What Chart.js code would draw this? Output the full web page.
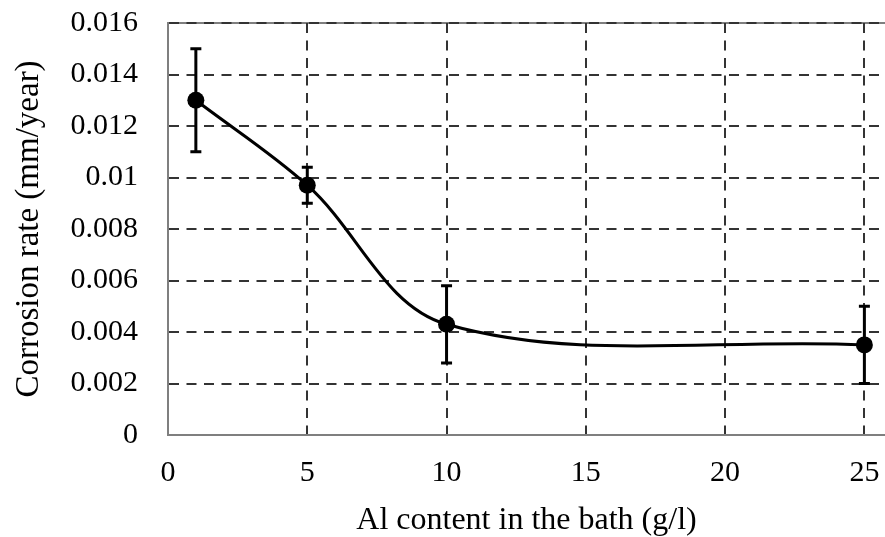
<!DOCTYPE html>
<html>
<head>
<meta charset="utf-8">
<script src="https://cdn.jsdelivr.net/npm/chart.js@4/dist/chart.umd.min.js"></script>
<style>
  html, body { margin: 0; padding: 0; background: #fff; }
  #wrap { width: 885px; height: 537px; position: relative; }
</style>
</head>
<body>
<div id="wrap"><canvas id="chart"></canvas></div>
<script>
const alContent = [1, 5, 10, 25];
const corrosionRate = [0.013, 0.0097, 0.0043, 0.0035];
const errUpper = [0.002, 0.0007, 0.0015, 0.0015];
const errLower = [0.002, 0.0007, 0.0015, 0.0015];
const xTicks = [0, 5, 10, 15, 20, 25];
const yTicks = [0, 0.002, 0.004, 0.006, 0.008, 0.01, 0.012, 0.014, 0.016];
const yTickLabels = ['0', '0.002', '0.004', '0.006', '0.008', '0.01', '0.012', '0.014', '0.016'];

const FONT = "'Liberation Serif', 'Times New Roman', serif";

// gray frame behind the dashed grid (top edge; left/bottom come from axis borders)
const framePlugin = {
  id: 'frame',
  beforeDraw(chart) {
    const { ctx, chartArea } = chart;
    ctx.save();
    ctx.strokeStyle = '#7f7f7f';
    ctx.lineWidth = 2;
    ctx.beginPath();
    ctx.moveTo(chartArea.left, chartArea.top);
    ctx.lineTo(chartArea.right, chartArea.top);
    ctx.stroke();
    ctx.restore();
  },
};

const errorBarPlugin = {
  id: 'errorBars',
  afterDatasetsDraw(chart) {
    const { ctx, scales } = chart;
    const x = scales.x, y = scales.y;
    ctx.save();
    ctx.strokeStyle = '#000';
    ctx.lineWidth = 3;
    alContent.forEach((v, i) => {
      const px = x.getPixelForValue(v);
      const top = y.getPixelForValue(corrosionRate[i] + errUpper[i]);
      const bot = y.getPixelForValue(corrosionRate[i] - errLower[i]);
      ctx.beginPath();
      ctx.moveTo(px, top);
      ctx.lineTo(px, bot);
      ctx.moveTo(px - 5.5, top);
      ctx.lineTo(px + 5.5, top);
      ctx.moveTo(px - 5.5, bot);
      ctx.lineTo(px + 5.5, bot);
      ctx.stroke();
    });
    ctx.restore();
  },
};

new Chart(document.getElementById('chart'), {
  type: 'line',
  data: {
    datasets: [{
      data: alContent.map((v, i) => ({ x: v, y: corrosionRate[i] })),
      borderColor: '#000',
      backgroundColor: '#000',
      borderWidth: 3,
      pointRadius: 8.5,
      pointBackgroundColor: '#000',
      pointBorderWidth: 0,
      tension: 0.35,
      clip: false,
    }],
  },
  options: {
    responsive: true,
    maintainAspectRatio: false,
    animation: false,
    layout: { autoPadding: false, padding: { top: 23, right: 0, left: 0, bottom: 0 } },
    plugins: { legend: { display: false }, tooltip: { enabled: false } },
    scales: {
      x: {
        type: 'linear',
        min: 0,
        max: 25.74,
        afterBuildTicks: s => { s.ticks = xTicks.map(v => ({ value: v })); },
        afterFit: s => { s.height = 102; s.paddingLeft = 0; s.paddingRight = 0; },
        ticks: { color: '#000', font: { family: FONT, size: 30 }, padding: 20, maxRotation: 0 },
        grid: { color: '#333', lineWidth: 2, drawTicks: false },
        border: { display: true, color: '#7f7f7f', width: 2, dash: [10, 7.5] },
        title: { display: true, text: 'Al content in the bath (g/l)', color: '#000', font: { family: FONT, size: 32, lineHeight: 1.0 }, padding: { top: 0, bottom: 0 } },
      },
      y: {
        type: 'linear',
        min: 0,
        max: 0.016,
        afterBuildTicks: s => { s.ticks = yTicks.map(v => ({ value: v })); },
        afterFit: s => { s.width = 168; s.paddingTop = 0; s.paddingBottom = 0; },
        ticks: { color: '#000', font: { family: FONT, size: 30 }, padding: 30, callback: (v, i) => yTickLabels[i] },
        grid: { color: '#333', lineWidth: 2, drawTicks: false },
        border: { display: true, color: '#7f7f7f', width: 2, dash: [10, 7.5] },
        title: { display: true, text: 'Corrosion rate (mm/year)', color: '#000', font: { family: FONT, size: 33 }, padding: { top: 10, bottom: 0 } },
      },
    },
  },
  plugins: [framePlugin, errorBarPlugin],
});
</script>
</body>
</html>
